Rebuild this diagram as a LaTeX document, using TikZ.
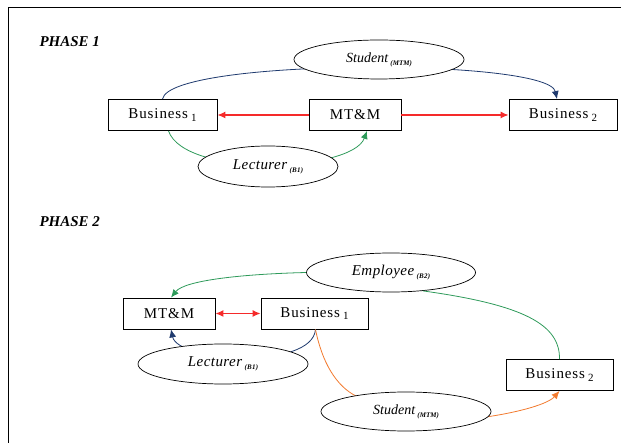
\documentclass[tikz,border=0pt]{standalone}
\usepackage{fontspec}
\setmainfont{Liberation Serif}
\newfontfamily\widefont[LetterSpace=6]{Liberation Serif}
\newfontfamily\roomyfont[LetterSpace=3]{Liberation Serif}
\usetikzlibrary{shapes.geometric,arrows.meta}
\definecolor{navy}{HTML}{1F3A6E}
\definecolor{leaf}{HTML}{2E9A5A}
\definecolor{redline}{HTML}{F52A2A}
\definecolor{orangeline}{HTML}{F27A2E}
\newcommand{\sub}[1]{\raisebox{-3pt}{\fontsize{7}{7}\selectfont\bfseries #1}}
\newcommand{\bsub}[1]{\hspace{3pt}\raisebox{-2.5pt}{\fontsize{11}{11}\selectfont #1}}
\tikzset{
  box/.style={draw, line width=0.9pt, fill=white, minimum height=31pt, inner sep=0pt,
              font=\widefont\fontsize{15}{15}\selectfont},
  role/.style={draw, ellipse, line width=0.7pt, fill=white, inner sep=0pt},
  phase/.style={font=\fontsize{15}{15}\selectfont\bfseries\itshape, anchor=west},
  tip/.style={-{Latex[length=8pt,width=7pt]}},
  both/.style={{Latex[length=8pt,width=7pt]}-{Latex[length=8pt,width=7pt]}},
  flow/.style={line width=0.8pt},
  redflow/.style={line width=1.1pt, redline}
}
\begin{document}
\begin{tikzpicture}[x=1pt,y=-1pt]
\useasboundingbox (0,0) rectangle (621,443);
% frame
\draw[thick] (8,443) -- (8,7) -- (621,7);

% ---------- phase 1 ----------
\node[phase] (p1) at (36,42) {PHASE 1};
\node[box, minimum width=109pt] (b1a) at (162.5,115) {Business\bsub{1}};
\node[box, minimum width=92pt] (mtma) at (355,115) {MT\&M};
\node[box, minimum width=108pt] (b2a) at (563,115) {Business\bsub{2}};

\draw[flow, navy, tip] ([xshift=0pt]b1a.north) .. controls (170,58) and (548,58) .. ([xshift=-6pt]b2a.north);
\draw[flow, leaf, tip] ([xshift=6pt]b1a.south) .. controls (185,178) and (352,172) .. ([xshift=12pt]mtma.south);
\draw[redflow, tip] (mtma.west) -- (b1a.east);
\draw[redflow, tip] (mtma.east) -- (b2a.west);

\node[role, minimum width=170pt, minimum height=39pt] (stua) at (379,59.5)
  {\itshape\fontsize{14}{14}\selectfont Student\,\sub{(MTM)}};
\node[role, minimum width=140pt, minimum height=41pt] (leca) at (268,166.5)
  {\roomyfont\itshape\fontsize{15}{15}\selectfont Lecturer\,\sub{(B1)}};

% ---------- phase 2 ----------
\node[phase] (p2) at (36,222) {PHASE 2};
\node[box, minimum width=92pt] (mtmb) at (169,313.5) {MT\&M};
\node[box, minimum width=107pt] (b1b) at (314.5,313.5) {Business\bsub{1}};
\node[box, minimum width=107pt] (b2b) at (559.5,375) {Business\bsub{2}};

\node[role, minimum width=169pt, minimum height=39pt] (emp) at (391,272.5)
  {\roomyfont\itshape\fontsize{15}{15}\selectfont Employee\,\sub{(B2)}};

\draw[flow, leaf, tip] (emp.west) .. controls (245,274) and (185,280) .. ([xshift=2pt]mtmb.north);
\draw[flow, leaf] (emp.-30) .. controls (525,305) and (560,325) .. (b2b.north);
\draw[redflow, both] (mtmb.east) -- (b1b.west);
\draw[flow, navy, tip] ([xshift=1pt]b1b.south) .. controls (312,370) and (178,362) .. ([xshift=2pt]mtmb.south);
\draw[flow, orangeline] ([xshift=1pt]b1b.south) .. controls (322,362) and (336,386) .. (356,396);
\draw[flow, orangeline, tip] (486,417) .. controls (520,412) and (548,404) .. (b2b.south);

\node[role, minimum width=170pt, minimum height=40pt] (lecb) at (223,364)
  {\roomyfont\itshape\fontsize{15}{15}\selectfont Lecturer\,\sub{(B1)}};
\node[role, minimum width=170pt, minimum height=39pt] (stub) at (406,411.5)
  {\itshape\fontsize{14}{14}\selectfont Student\,\sub{(MTM)}};
\end{tikzpicture}
\end{document}
